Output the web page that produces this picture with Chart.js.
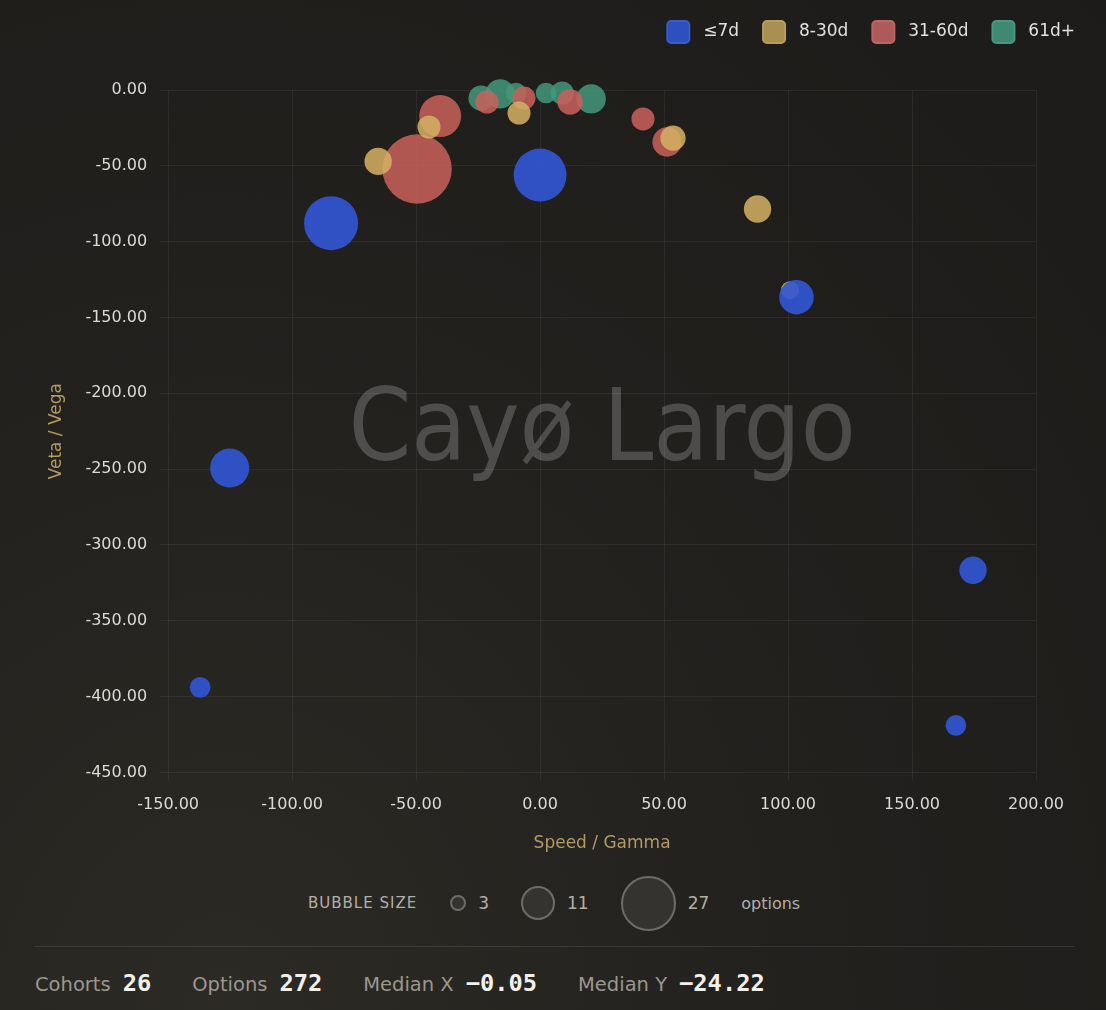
<!DOCTYPE html>
<html>
<head>
<meta charset="utf-8">
<script src="https://cdn.jsdelivr.net/npm/chart.js@4.4.1/dist/chart.umd.min.js"></script>
<style>
    html, body { margin: 0; padding: 0; }
    body {
        width: 1106px; height: 1010px; overflow: hidden; position: relative;
        background: radial-gradient(ellipse at 20% 100%, #2c2a24 0%, #22211e 45%, #1c1b19 100%);
        font-family: "DejaVu Sans", sans-serif;
        color: #ddd;
    }
    #wrap { position: absolute; left: 0; top: 0; width: 1106px; height: 865px; }
    .sizes {
        position: absolute; left: 308px; top: 876px; height: 54px;
        display: flex; align-items: center; color: #b3afa8; font-size: 16px;
    }
    .sizes .title { letter-spacing: 1px; margin-right: 33px; font-size: 15px; }
    .sizes .item { display: flex; align-items: center; margin-right: 32px; font-size: 17px; }
    .sizes .dot { box-sizing: border-box; border: 2px solid #6e6c67; background: #34332f; border-radius: 50%; margin-right: 12px; }
    .sep { position: absolute; left: 35px; top: 946px; width: 1040px; height: 1px; background: rgba(255,255,255,0.1); }
    .stats { position: absolute; left: 35px; top: 969px; display: flex; align-items: baseline; }
    .stats .lab { color: #9b978f; font-size: 19.5px; margin-right: 12px; }
    .stats .val { color: #f2f0ec; font-family: "DejaVu Sans Mono", monospace; font-weight: bold; font-size: 23.7px; margin-right: 41px; }
</style>
</head>
<body>
<div id="wrap"><canvas id="bubbleChart"></canvas></div>
<div class="sizes" id="sizeLegend"><span class="title">BUBBLE SIZE</span></div>
<div class="sep"></div>
<div class="stats">
    <span class="lab">Cohorts</span><span class="val">26</span>
    <span class="lab">Options</span><span class="val">272</span>
    <span class="lab">Median X</span><span class="val">−0.05</span>
    <span class="lab">Median Y</span><span class="val">−24.22</span>
</div>
<script>
// cohorts by bucket: x = speed/gamma, y = veta/vega, n = option count
const buckets = ['≤7d', '8-30d', '31-60d', '61d+'];

const week_x = [-84.3, 0.0, -125.2, -137.1, 103.4, 174.6, 167.7];
const week_y = [-87.8, -56.1, -249.3, -393.9, -136.6, -316.7, -419.0];
const week_n = [27, 26, 15, 5, 12, 8, 5];

const month_x = [-65.3, -44.8, -8.5, 53.6, 87.7, 100.8];
const month_y = [-47.1, -24.4, -15.2, -31.7, -78.5, -132.0];
const month_n = [8, 6, 6, 7, 8, 4];

const quarter_x = [-49.6, -40.3, -21.4, -6.5, 12.1, 41.5, 51.2];
const quarter_y = [-52.1, -17.2, -7.9, -5.3, -7.9, -19.1, -34.3];
const quarter_n = [43, 17, 6, 6, 7, 6, 9];

const long_x = [-23.8, -16.1, -9.7, 2.4, 8.9, 20.6];
const long_y = [-5.3, -2.6, -2.0, -2.0, -2.0, -5.9];
const long_n = [7, 9, 5, 5, 6, 9];

const sizeTicks = [3, 11, 27];

const xTicksMin = -150, xTicksMax = 200;
const yTicksMin = -450, yTicksMax = 0;

const fills = ['rgba(50, 86, 214, 0.9)', 'rgba(214, 178, 98, 0.85)', 'rgba(202, 98, 92, 0.85)', 'rgba(68, 152, 124, 0.85)'];
const boxFills = ['#2d4fbf', '#a88f52', '#ad5a58', '#3f8872'];
const boxLines = ['#3a5ccc', '#b89e5e', '#bd6663', '#4a9680'];

// radius from option count
function radiusFor(n) {
    return 5.63 * Math.sqrt(n) - 2.25;
}

function points(xs, ys, ns) {
    return xs.map((x, i) => ({ x: x, y: ys[i], r: radiusFor(ns[i]) }));
}

const series = [
    points(week_x, week_y, week_n),
    points(month_x, month_y, month_n),
    points(quarter_x, quarter_y, quarter_n),
    points(long_x, long_y, long_n)
];

// bubble size legend under the chart
const sizeBox = document.getElementById('sizeLegend');
sizeTicks.forEach(n => {
    const item = document.createElement('span');
    item.className = 'item';
    const d = Math.round(radiusFor(n) * 2) + 1;
    item.innerHTML = '<span class="dot" style="width:' + d + 'px;height:' + d + 'px"></span><span>' + n + '</span>';
    sizeBox.appendChild(item);
});
const unit = document.createElement('span');
unit.textContent = 'options';
sizeBox.appendChild(unit);

const watermark = {
    id: 'watermark',
    beforeDatasetsDraw(chart) {
        const a = chart.chartArea;
        const ctx = chart.ctx;
        ctx.save();
        ctx.font = '100px "DejaVu Sans Condensed", "DejaVu Sans", sans-serif';
        ctx.fillStyle = 'rgba(255, 255, 255, 0.2)';
        ctx.textAlign = 'center';
        ctx.textBaseline = 'middle';
        ctx.fillText('Cayø Largo', (a.left + a.right) / 2, 434);
        ctx.restore();
    }
};

// extra room between legend and plot
const legendSpace = {
    id: 'legendSpace',
    beforeInit(chart) {
        const fit = chart.legend.fit;
        chart.legend.fit = function () {
            fit.bind(chart.legend)();
            this.height += 37;
        };
    }
};

const gridColor = 'rgba(255, 255, 255, 0.06)';
const tickFont = { family: '"DejaVu Sans", sans-serif', size: 16 };
const titleFont = { family: '"DejaVu Sans", sans-serif', size: 17 };

new Chart(document.getElementById('bubbleChart'), {
    type: 'bubble',
    data: {
        datasets: buckets.map((name, i) => ({
            label: name,
            data: series[i],
            backgroundColor: fills[i],
            borderWidth: 0,
            hoverBorderWidth: 0,
            clip: false
        }))
    },
    options: {
        responsive: true,
        maintainAspectRatio: false,
        animation: false,
        layout: { padding: { left: 40, right: 7, top: -3, bottom: 11 } },
        plugins: {
            tooltip: { enabled: false },
            legend: {
                position: 'top',
                align: 'end',
                labels: {
                    color: '#e2e0dc',
                    font: { family: '"DejaVu Sans", sans-serif', size: 17 },
                    boxWidth: 22,
                    boxHeight: 22,
                    padding: 24,
                    useBorderRadius: true,
                    borderRadius: 4,
                    generateLabels: chart => chart.data.datasets.map((ds, i) => ({
                        text: ' ' + ds.label,
                        fillStyle: boxFills[i],
                        strokeStyle: boxLines[i],
                        lineWidth: 2,
                        fontColor: '#e2e0dc',
                        borderRadius: 4,
                        datasetIndex: i,
                        hidden: false
                    }))
                }
            }
        },
        scales: {
            x: {
                type: 'linear',
                min: xTicksMin,
                max: xTicksMax,
                afterFit: scale => { scale.paddingRight = 70; },
                ticks: {
                    stepSize: 50,
                    color: '#dcdad6',
                    font: tickFont,
                    padding: 15,
                    callback: v => v.toFixed(2)
                },
                grid: { color: gridColor, tickLength: 8 },
                border: { display: false },
                title: { display: true, text: 'Speed / Gamma', color: '#b49a62', font: titleFont, padding: { top: 4, bottom: 0 } }
            },
            y: {
                type: 'linear',
                min: yTicksMin,
                max: yTicksMax,
                ticks: {
                    stepSize: 50,
                    color: '#dcdad6',
                    font: tickFont,
                    padding: 13,
                    callback: v => v.toFixed(2)
                },
                grid: { color: gridColor, tickLength: 8 },
                border: { display: false },
                title: { display: true, text: 'Veta / Vega', color: '#b49a62', font: titleFont, padding: { top: 6, bottom: 6 } }
            }
        }
    },
    plugins: [watermark, legendSpace]
});
</script>
</body>
</html>
